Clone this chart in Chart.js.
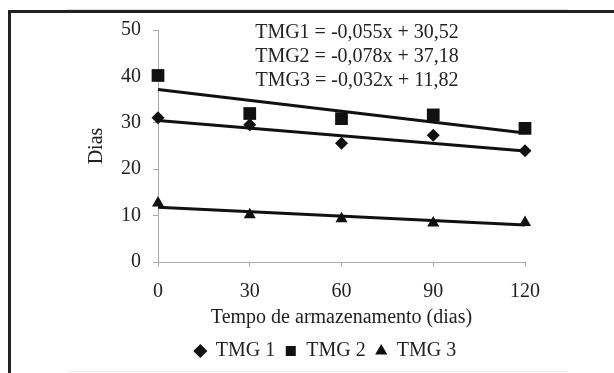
<!DOCTYPE html>
<html>
<head>
<meta charset="utf-8">
<script src="https://cdn.jsdelivr.net/npm/chart.js@4"></script>
<style>
  html, body { margin: 0; padding: 0; background: #fff; }
  #wrap { position: relative; width: 614px; height: 373px; overflow: hidden; }
  /* moldura escaneada */
  #moldura { position: absolute; left: 8px; top: 10px; width: 700px; height: 500px;
             border-left: 3px solid #222; border-top: 3px solid #222; }
  .risco { position: absolute; left: 67px; width: 501px; height: 1px; background: #ddd; }
  canvas { position: absolute; left: 0; top: 0; }
</style>
</head>
<body>
<div id="wrap">
  <div class="risco" style="top:9px"></div>
  <div class="risco" style="top:371px; background:#eee"></div>
  <div id="moldura"></div>
  <canvas id="chart" width="614" height="373"></canvas>
</div>
<script>
// --- DADOS ---
const tempos = [0, 30, 60, 90, 120];
const tmg1 = [31.1, 29.6, 25.6, 27.3, 24.0];
const tmg2 = [40.2, 32.0, 30.9, 31.7, 28.8];
const tmg3 = [12.7, 10.2, 9.3, 8.4, 8.5];

const trendInicio = [30.52, 37.18, 11.82];
const trendFim = [23.92, 27.82, 7.98];

const equacoes = [
  "TMG1 = -0,055x + 30,52",
  "TMG2 = -0,078x + 37,18",
  "TMG3 = -0,032x + 11,82"
];

const FONTE = "'Liberation Serif', 'Times New Roman', serif";
const PRETO = "#111";

function pontos(serie) {
  return tempos.map((t, i) => ({ x: t, y: serie[i] }));
}

function reta(i) {
  return [{ x: tempos[0], y: trendInicio[i] }, { x: tempos[tempos.length - 1], y: trendFim[i] }];
}

// Plugin simples: equa칞칫es no topo + legenda um pouco deslocada para a direita
const pluginEquacoes = {
  id: "equacoes",
  afterLayout(chart) {
    if (chart.legend) {
      chart.legend.left += 23;
      chart.legend.right += 23;
    }
  },
  afterDraw(chart) {
    const ctx = chart.ctx;
    ctx.save();
    ctx.font = "20px " + FONTE;
    ctx.fillStyle = "#222";
    ctx.textAlign = "center";
    ctx.textBaseline = "middle";
    equacoes.forEach((txt, i) => ctx.fillText(txt, 357, 33 + i * 24));
    ctx.restore();
  }
};

function serieMarcador(label, dados, estilo, raio) {
  return {
    type: "scatter",
    label: label,
    data: pontos(dados),
    pointStyle: estilo,
    pointRadius: raio,
    pointHoverRadius: raio,
    backgroundColor: PRETO,
    borderColor: PRETO,
    borderWidth: 0,
    clip: false
  };
}

function serieReta(i) {
  return {
    type: "line",
    label: "reta" + (i + 1),
    data: reta(i),
    borderColor: PRETO,
    borderWidth: 3,
    pointRadius: 0,
    fill: false,
    clip: false
  };
}

let ctx = document.getElementById("chart").getContext("2d");

window.myChart = new Chart(ctx, {
  data: {
    datasets: [
      serieMarcador("TMG 1", tmg1, "rectRot", 6.5),
      serieMarcador("TMG 2", tmg2, "rect", 9),
      serieMarcador("TMG 3", tmg3, "triangle", 7),
      serieReta(0), serieReta(1), serieReta(2)
    ]
  },
  options: {
    responsive: false,
    animation: false,
    layout: { padding: { left: 80, top: 30, right: 89, bottom: 2 } },
    scales: {
      x: {
        type: "linear",
        min: 0, max: 120,
        ticks: { stepSize: 30, color: "#222", font: { family: FONTE, size: 20 }, padding: 13 },
        grid: { drawOnChartArea: false, drawTicks: true, tickLength: 5, color: "#aaa" },
        border: { display: true, color: "#aaa", width: 1 },
        title: { display: true, text: "Tempo de armazenamento (dias)", color: "#222",
                 font: { family: FONTE, size: 20 }, padding: { top: 0, bottom: 1 } },
        afterFit(scale) { scale.height = 69; }
      },
      y: {
        min: 0, max: 50,
        ticks: { stepSize: 10, color: "#222", font: { family: FONTE, size: 20 }, padding: 12 },
        grid: { drawOnChartArea: false, drawTicks: true, tickLength: 5, color: "#aaa" },
        border: { display: true, color: "#aaa", width: 1 },
        title: { display: true, text: "Dias", color: "#222",
                 font: { family: FONTE, size: 20 }, padding: { top: 5, bottom: 0 } },
        afterFit(scale) { scale.width = 78; }
      }
    },
    plugins: {
      legend: {
        position: "bottom",
        labels: {
          usePointStyle: true,
          boxWidth: 11,
          boxHeight: 10,
          padding: 10,
          color: "#222",
          font: { family: FONTE, size: 20 },
          filter: (item) => item.datasetIndex < 3
        }
      },
      tooltip: { enabled: false }
    }
  },
  plugins: [pluginEquacoes]
});
</script>
</body>
</html>
